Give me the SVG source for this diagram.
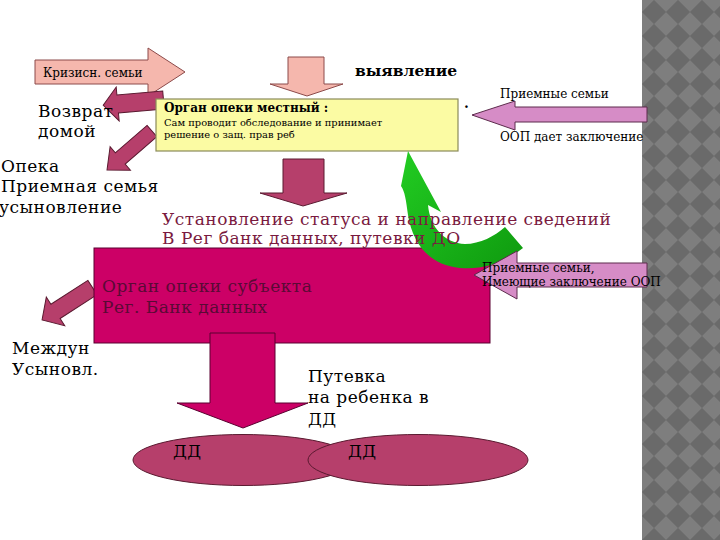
<svg xmlns="http://www.w3.org/2000/svg" width="720" height="540" viewBox="0 0 720 540">
<defs>
<pattern id="chk" x="642" y="0" width="24" height="24" patternUnits="userSpaceOnUse">
<rect width="24" height="24" fill="#7e7e7e"/>
<polygon points="12,0 24,12 12,24 0,12" fill="#6a6a6a" stroke="#727272" stroke-width="1"/>
</pattern>
<linearGradient id="grn" x1="0" y1="0" x2="1" y2="1">
<stop offset="0" stop-color="#22cc22"/>
<stop offset="1" stop-color="#0f9a0f"/>
</linearGradient>
<style>
.t{font-family:"DejaVu Serif","Liberation Serif",serif;fill:#000}
.big{font-size:17px;letter-spacing:0.5px}
.sm{font-size:12px}
.pink{fill:#f5b7ad;stroke:#8c4a4a;stroke-width:1}
.rose{fill:#b63f6b;stroke:#5a1a30;stroke-width:1}
.mag{fill:#cc0066;stroke:#5a0030;stroke-width:1}
.vio{fill:#d68cc6;stroke:#5c2a4c;stroke-width:1}
.maroon{fill:#7a1a40;font-size:17px;letter-spacing:0.5px}
.onbox{fill:#5a0a35;font-size:17px;letter-spacing:0.5px}
</style>
</defs>
<rect width="720" height="540" fill="#ffffff"/>
<rect x="642" y="0" width="78" height="540" fill="url(#chk)"/>

<g id="connectors">
<polygon id="a-kriz" class="pink" points="35,60 148,60 148,48 185,72 148,96 148,84 35,84"/>
<polygon id="a-top" class="pink" points="288,57 324,57 324,84 343,84 307,96 270,84 288,84"/>
<polygon id="a-vozvrat" class="rose" transform="translate(163.5,100) rotate(175)" points="0,-9 46,-9 46,-17 60.5,0 46,17 46,9 0,9"/>
<polygon id="a-opeka" class="rose" transform="translate(152,131) rotate(139.1)" points="0,-7.5 42,-7.5 42,-15.5 59.5,0 42,15.5 42,7.5 0,7.5"/>
<polygon id="a-mid" class="rose" points="283,159 324,159 324,193 347,193 303,206 260,193 283,193"/>
<polygon id="a-mezhd" class="rose" transform="translate(92.5,287.5) rotate(147.2)" points="0,-8.5 44,-8.5 44,-17 60,0 44,17 44,8.5 0,8.5"/>
</g>

<g id="n-local">
<rect x="156" y="99" width="302" height="52" fill="#fbfba3" stroke="#8b8b5a" stroke-width="1.2"/>
<text class="t" x="164" y="112" font-size="12" font-weight="bold">Орган опеки местный :</text>
<text class="t" x="164" y="126" font-size="9.9">Сам проводит обследование и принимает</text>
<text class="t" x="164" y="138" font-size="9.9">решение о защ. прав реб</text>
</g>
<text class="t" x="464" y="108" font-size="14" font-weight="bold">.</text>

<g id="n-labels-left">
<text class="t sm" x="43" y="77">Кризисн. семьи</text>
<text class="t" x="355" y="76" font-size="15.5" font-weight="bold">выявление</text>
<text class="t big" x="38" y="117">Возврат</text>
<text class="t big" x="38" y="137">домой</text>
<text class="t big" x="1" y="172">Опека</text>
<text class="t big" x="1" y="192">Приемная семья</text>
<text class="t big" x="-1" y="213">усыновление</text>
</g>

<g id="n-subject">
<rect x="94" y="248" width="396" height="95" class="mag"/>
<text class="t onbox" x="102" y="292">Орган опеки субъекта</text>
<text class="t onbox" x="102" y="313">Рег. Банк данных</text>
</g>

<g id="a-green">
<path d="M408,151 L441,212 L428,205 C430,228 445,243 465,244 C480,244 495,236 505,227 L523,248 C505,262 485,270 460,268 C430,265 413,245 408,215 C406,200 405,192 401,186 Z" fill="url(#grn)"/>
</g>

<g id="n-status">
<text class="t maroon" x="162" y="225">Установление статуса и направление сведений</text>
<text class="t maroon" x="162" y="244">В Рег банк данных, путевки ДО</text>
</g>

<g id="n-right-top">
<polygon class="vio" points="647,107 515,107 515,101 472,115 515,130 515,122 647,122"/>
<text class="t sm" x="500" y="98">Приемные семьи</text>
<text class="t sm" x="500" y="141">ООП дает заключение</text>
</g>

<g id="n-right-bottom">
<polygon class="vio" points="647,263 517,263 517,251 474,275 517,299 517,287 647,287"/>
<text class="t sm" x="482" y="272">Приемные семьи,</text>
<text class="t sm" x="482" y="286">Имеющие заключение ООП</text>
</g>

<g id="n-mezhd">
<text class="t big" x="12" y="354">Междун</text>
<text class="t big" x="12" y="375">Усыновл.</text>
</g>

<g id="a-big">
<polygon class="mag" points="210,333 275,333 275,403 308,403 243,428 177,403 210,403"/>
</g>

<g id="n-putevka">
<text class="t big" x="308" y="382">Путевка</text>
<text class="t big" x="308" y="403">на ребенка в</text>
<text class="t big" x="308" y="425">ДД</text>
</g>

<g id="n-dd1">
<ellipse cx="243" cy="460" rx="110" ry="25.5" class="rose" stroke="#3a1020"/>
<text class="t big" x="173" y="457" fill="#3a0a1e">ДД</text>
</g>
<g id="n-dd2">
<ellipse cx="418" cy="460" rx="110" ry="25.5" class="rose" stroke="#3a1020"/>
<text class="t big" x="348" y="457" fill="#3a0a1e">ДД</text>
</g>
</svg>
